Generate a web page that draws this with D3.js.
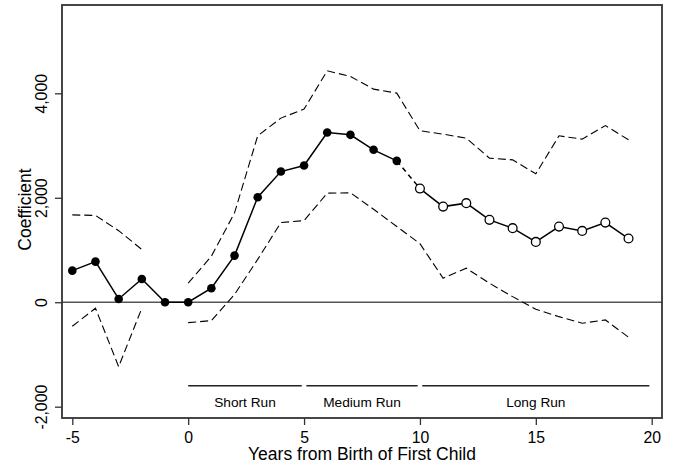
<!DOCTYPE html>
<html>
<head>
<meta charset="utf-8">
<script src="https://cdn.jsdelivr.net/npm/d3@7"></script>
<style>
  html, body { margin: 0; padding: 0; background: #fff; }
  svg { display: block; font-family: "Liberation Sans", Arial, Helvetica, sans-serif; }
</style>
</head>
<body>
<svg id="chart" width="675" height="470"></svg>
<script>
// ---- data ----
const years = [-5,-4,-3,-2,-1,0,1,2,3,4,5,6,7,8,9,10,11,12,13,14,15,16,17,18,19];
const coef  = [605,778,63,446,0,0,268,893,2011,2502,2617,3249,3205,2918,2707,2176,1831,1897,1577,1418,1155,1448,1366,1525,1220];
const upper = [1672,1662,1370,1010,null,364,880,1710,3186,3525,3697,4431,4322,4080,4004,3282,3218,3142,2759,2726,2458,3186,3122,3383,3109];
const lower = [-460,-115,-1234,-115,null,-391,-352,150,820,1525,1563,2088,2095,1780,1450,1120,460,651,364,107,-134,-276,-402,-339,-670];
const hollowFrom = 10; // years >= this drawn with hollow markers
const xTicks = [-5,0,5,10,15,20];
const yTicks = [-2000,0,2000,4000];
const runStart  = [0, 5.1, 10.1];
const runEnd    = [4.9, 9.9, 19.9];
const runLabels = ["Short Run","Medium Run","Long Run"];
const runLevel = -1600;
const xTitle = "Years from Birth of First Child";
const yTitle = "Coefficient";

// ---- layout ----
const svg = d3.select("#chart");
const frame = {left: 62, right: 662, top: 5, bottom: 418};
const x = d3.scaleLinear().domain([-5, 20]).range([72.3, 651.7]);
const y = d3.scaleLinear().domain([-2000, 4000]).range([406.7, 93.3]);
const fmt = d3.formatLocale({decimal: ".", thousands: ",", grouping: [3], currency: ["", ""], minus: "-"}).format(",");

const rows = years.map((yr, i) => ({yr, c: coef[i], u: upper[i], l: lower[i]}));

// zero line
svg.append("line")
  .attr("x1", frame.left).attr("x2", frame.right)
  .attr("y1", y(0)).attr("y2", y(0))
  .attr("stroke", "#555").attr("stroke-width", 1.4);

// confidence bands (dashed)
const ciLine = key => d3.line()
  .defined(d => d[key] !== null)
  .x(d => x(d.yr)).y(d => y(d[key]));
["u", "l"].forEach(k => {
  svg.append("path")
    .datum(rows)
    .attr("d", ciLine(k))
    .attr("fill", "none")
    .attr("stroke", "#000")
    .attr("stroke-width", 1.1)
    .attr("stroke-dasharray", "8,4");
});

// point estimate lines
const est = d3.line().x(d => x(d.yr)).y(d => y(d.c));
const solidA = rows.filter(d => d.yr < hollowFrom);
const solidB = rows.filter(d => d.yr >= hollowFrom);
const bridge = rows.filter(d => d.yr >= hollowFrom - 1 && d.yr <= hollowFrom);
[solidA, solidB].forEach(seg => {
  svg.append("path").datum(seg).attr("d", est)
    .attr("fill", "none").attr("stroke", "#000").attr("stroke-width", 1.5);
});
svg.append("path").datum(bridge).attr("d", est)
  .attr("fill", "none").attr("stroke", "#000").attr("stroke-width", 1.5)
  .attr("stroke-dasharray", "5,4");

// markers
svg.append("g").selectAll("circle")
  .data(solidA).join("circle")
  .attr("cx", d => x(d.yr)).attr("cy", d => y(d.c))
  .attr("r", 4.3).attr("fill", "#000");
svg.append("g").selectAll("circle")
  .data(solidB).join("circle")
  .attr("cx", d => x(d.yr)).attr("cy", d => y(d.c))
  .attr("r", 4.4).attr("fill", "#fff").attr("stroke", "#000").attr("stroke-width", 1.3);

// run annotations
const runs = runLabels.map((lab, i) => ({lab, s: runStart[i], e: runEnd[i]}));
const rg = svg.append("g");
rg.selectAll("line").data(runs).join("line")
  .attr("x1", d => x(d.s)).attr("x2", d => x(d.e))
  .attr("y1", y(runLevel)).attr("y2", y(runLevel))
  .attr("stroke", "#222").attr("stroke-width", 1.5);
rg.selectAll("text").data(runs).join("text")
  .attr("x", d => x((d.s + d.e) / 2))
  .attr("y", y(runLevel) + 21.5)
  .attr("text-anchor", "middle")
  .attr("font-size", 13.7)
  .attr("fill", "#000")
  .text(d => d.lab);

// frame
svg.append("rect")
  .attr("x", frame.left).attr("y", frame.top)
  .attr("width", frame.right - frame.left).attr("height", frame.bottom - frame.top)
  .attr("fill", "none").attr("stroke", "#333").attr("stroke-width", 1.8);

// x axis
const gx = svg.append("g")
  .attr("transform", `translate(0,${frame.bottom})`)
  .call(d3.axisBottom(x).tickValues(xTicks).tickFormat(fmt).tickSize(7).tickPadding(6.5));
gx.select(".domain").remove();
gx.selectAll(".tick line").attr("stroke", "#333").attr("stroke-width", 1.3);
gx.selectAll(".tick text").attr("font-size", 15.8).attr("fill", "#000")
  .attr("font-family", "Liberation Sans, Arial, sans-serif");

// y axis
const gy = svg.append("g")
  .attr("transform", `translate(${frame.left},0)`)
  .call(d3.axisLeft(y).tickValues(yTicks).tickFormat(fmt).tickSize(7));
gy.select(".domain").remove();
gy.selectAll(".tick line").attr("stroke", "#333").attr("stroke-width", 1.3);
gy.selectAll(".tick text")
  .attr("x", 0).attr("y", 0).attr("dy", 0)
  .attr("text-anchor", "middle")
  .attr("transform", "translate(-15,0) rotate(-90)")
  .attr("font-size", 15.8).attr("fill", "#000")
  .attr("font-family", "Liberation Sans, Arial, sans-serif");

// titles
svg.append("text")
  .attr("x", (frame.left + frame.right) / 2).attr("y", 460)
  .attr("text-anchor", "middle").attr("font-size", 17.5).attr("fill", "#000")
  .text(xTitle);
svg.append("text")
  .attr("transform", `translate(31,${(frame.top + frame.bottom) / 2 - 2}) rotate(-90)`)
  .attr("text-anchor", "middle").attr("font-size", 17.5).attr("fill", "#000")
  .text(yTitle);
</script>
</body>
</html>
